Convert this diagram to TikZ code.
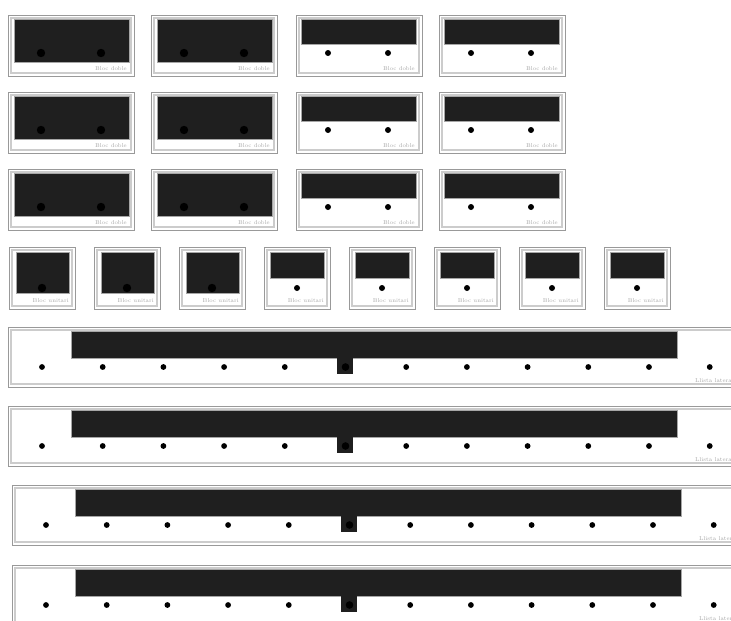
\documentclass[tikz,border=0pt]{standalone}
\usepackage{tikz}
\usetikzlibrary{positioning}
\tikzstyle{outerframe} = [draw=gray!80, line width=0.8pt, fill=white]
\tikzstyle{innerframe} = [draw=gray!40, line width=1.1pt]
\tikzstyle{panel}      = [fill=black!88, draw=gray!70, line width=0.3pt]
\tikzstyle{tag}        = [text=gray!70, font=\fontsize{5.6}{5.6}\selectfont, inner sep=0pt]

\begin{document}
\begin{tikzpicture}[x=1pt, y=-1pt]
\clip (0,0) rectangle (731,621);
\fill[white] (0,0) rectangle (731,621);

% blocs dobles
\foreach \y in {15,92,169} {
  \foreach \x in {8,151} {
    \draw[outerframe] (\x,\y) rectangle ++(126,61);
    \draw[innerframe] (\x+3,\y+3) rectangle ++(120,55);
    \draw[panel] (\x+6,\y+4) rectangle ++(115,43);
    \fill (\x+33,\y+38) circle (4.2pt);
    \fill (\x+93,\y+38) circle (4.2pt);
    \node[tag, anchor=base east] (doble) at (\x+119,\y+55.5) {Bloc doble};
  }
  \foreach \x in {296,439} {
    \draw[outerframe] (\x,\y) rectangle ++(126,61);
    \draw[innerframe] (\x+3,\y+3) rectangle ++(120,55);
    \draw[panel] (\x+5,\y+4) rectangle ++(115,25);
    \fill (\x+32,\y+38) circle (3pt);
    \fill (\x+92,\y+38) circle (3pt);
    \node[tag, anchor=base east] (doble) at (\x+119,\y+55.5) {Bloc doble};
  }
}

% blocs unitaris
\foreach \k in {0,...,7} {
  \pgfmathsetmacro{\x}{9+85*\k}
  \draw[outerframe] (\x,247) rectangle ++(66,62);
  \draw[innerframe] (\x+3,250) rectangle ++(60,56);
  \ifnum\k<3
    \draw[panel] (\x+7,252) rectangle ++(53,41);
    \fill (\x+33,288) circle (4.2pt);
  \else
    \draw[panel] (\x+6,252) rectangle ++(54,26);
    \fill (\x+33,288) circle (3pt);
  \fi
  \node[tag, anchor=base east] (unitari) at (\x+60,302.5) {Bloc unitari};
}

% llistes laterals
\foreach \x/\y in {8/327, 8/406, 12/485, 12/565} {
  \draw[outerframe] (\x,\y) rectangle ++(760,60);
  \draw[innerframe] (\x+3,\y+3) rectangle ++(754,54);
  \draw[panel] (\x+63,\y+4) rectangle (\x+669,\y+31);
  \fill[black!88] (\x+329,\y+30) rectangle (\x+345,\y+47);
  \foreach \k in {0,...,11} {
    \ifnum\k=5
      \fill (\x+34+60.7*\k,\y+40) circle (3.8pt);
    \else
      \fill (\x+34+60.7*\k,\y+40) circle (2.9pt);
    \fi
  }
  \node[tag, anchor=base west] (lateral) at (\x+687,\y+55) {Llista lateral};
}
\end{tikzpicture}
\end{document}
